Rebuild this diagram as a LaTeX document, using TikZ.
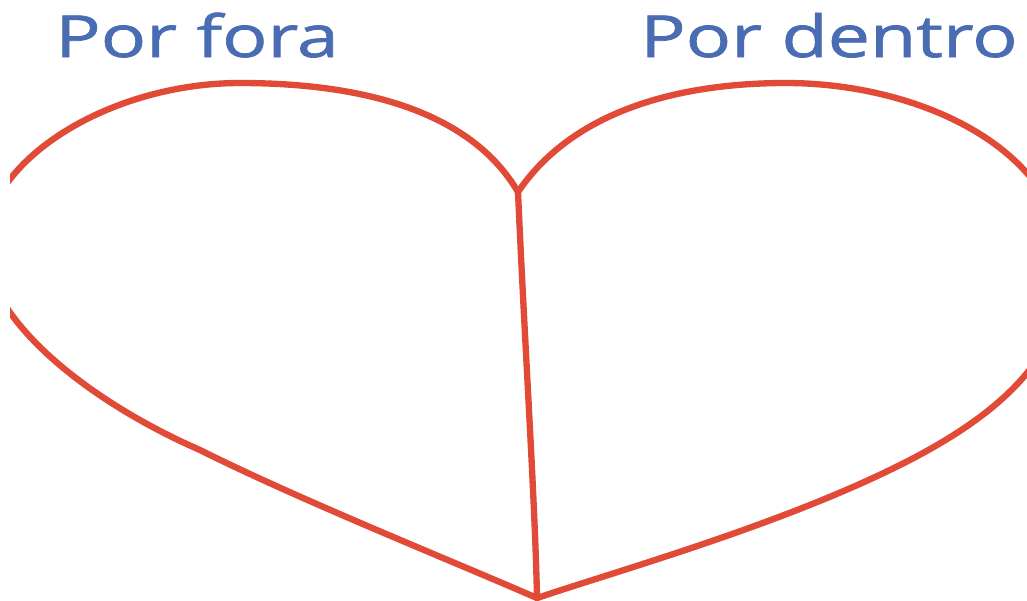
\documentclass[tikz,border=0pt]{standalone}
\usepackage{fontspec}
\setmainfont{Open Sans}
\definecolor{heartred}{HTML}{E24A38}
\definecolor{titleblue}{HTML}{4A6CB3}

\begin{document}
\begin{tikzpicture}[
	x=0.02cm,y=-0.02cm,
	heartline/.style={line width=3.6pt,draw=heartred,line cap=round,line join=round},
	titletext/.style={anchor=base west,inner sep=0pt,text=titleblue,
		font=\fontsize{33}{36}\selectfont\addfontfeature{FakeStretch=1.3,FakeBold=1.2}}
	]
	\useasboundingbox[fill=white] (0,0) rectangle (1027,600);
	\coordinate (cleft) at (518,192);
	\coordinate (tip) at (537,598);
	% titles
	\node [titletext] (outside) at (55,57) {Por fora};
	\node [titletext] (inside) at (640,57) {Por dentro};
	% heart
	\begin{scope}
		\clip (10,0) rectangle (1027,600);
		\draw [heartline] (cleft) .. controls (470,110) and (360,83) .. (240,83)
			.. controls (110,83) and (-15,160) .. (-15,245)
			.. controls (-15,320) and (90,402) .. (200,450)
			.. controls (300,500) and (450,560) .. (tip);
		\draw [heartline] (cleft) .. controls (570,115) and (670,83) .. (786,83)
			.. controls (920,83) and (1065,150) .. (1065,270)
			.. controls (1065,350) and (1010,410) .. (900,465)
			.. controls (780,525) and (620,570) .. (tip);
		\draw [heartline] (cleft) .. controls (525,350) and (535,500) .. (tip);
	\end{scope}
\end{tikzpicture}
\end{document}
